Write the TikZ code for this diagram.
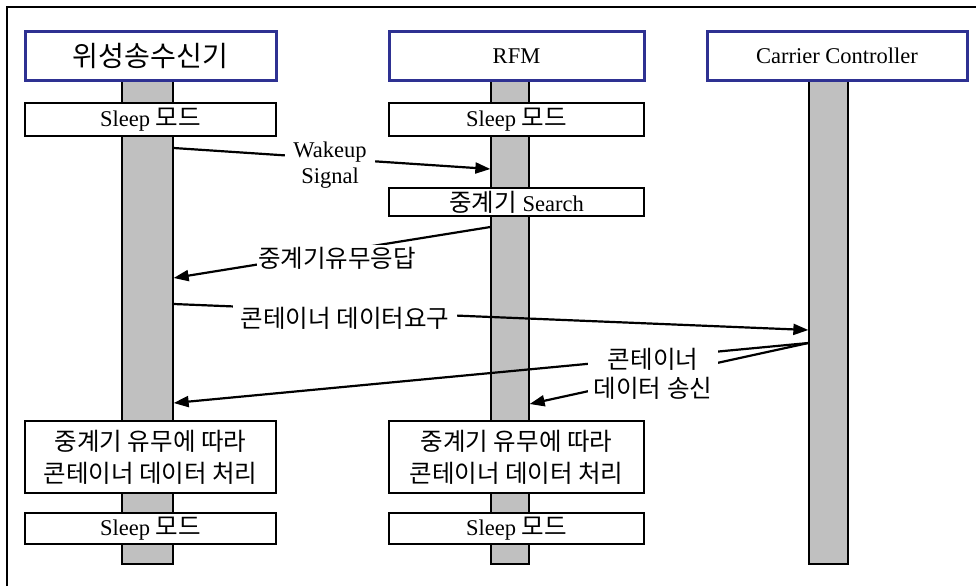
\documentclass[tikz,border=0pt]{standalone}
\usepackage{fontspec}
\setmainfont{Liberation Serif}
\newfontfamily\krfont{Noto Sans CJK KR}[Scale=1.09]
\newcommand{\ko}[1]{{\krfont #1}}
\usetikzlibrary{arrows.meta}
\definecolor{hdrblue}{RGB}{46,49,146}
\definecolor{bargray}{RGB}{192,192,192}

\begin{document}
\begin{tikzpicture}[x=1pt,y=-1pt,
  font=\fontsize{22.5}{26}\selectfont,
  hdr/.style={draw=hdrblue, line width=3pt, fill=white, inner sep=0pt},
  actbox/.style={draw=black, line width=1.3pt, fill=white, inner sep=0pt, align=center},
  lifebar/.style={draw=black, line width=1.3pt, fill=bargray, inner sep=0pt},
  msg/.style={line width=2.2pt, -{Triangle[length=15pt,width=11pt]}},
  lbl/.style={fill=white, inner sep=1.5pt, align=center}
]
\useasboundingbox (0,0) rectangle (976,586);

% frame
\draw[line width=1.3pt] (7,586) -- (7,7) -- (976,7);

% lifelines
\node[lifebar, minimum width=51, minimum height=484] (b1) at (147.5,322) {};
\node[lifebar, minimum width=38, minimum height=484] (b2) at (510,322) {};
\node[lifebar, minimum width=39, minimum height=484] (b3) at (828.5,322) {};

% participant headers
\node[hdr, minimum width=251, minimum height=48] (h1) at (150.5,56) {{\krfont\fontsize{25.8}{30}\selectfont 위성송수신기}};
\node[hdr, minimum width=255, minimum height=48] (h2) at (516.5,56) {RFM};
\node[hdr, minimum width=260, minimum height=48] (h3) at (837,56) {Carrier Controller};

% activity boxes, satellite transceiver
\node[actbox, minimum width=251, minimum height=33] (s1) at (150.5,119.5) {Sleep \ko{모드}};
\node[actbox, minimum width=251, minimum height=72,
      font=\fontsize{22.5}{32}\selectfont] (p1) at (150.5,457)
      {\ko{중계기 유무에 따라}\\\ko{콘테이너 데이터 처리}};
\node[actbox, minimum width=251, minimum height=31] (e1) at (150.5,528.5) {Sleep \ko{모드}};

% activity boxes, RFM
\node[actbox, minimum width=255, minimum height=33] (s2) at (516.5,119.5) {Sleep \ko{모드}};
\node[actbox, minimum width=255, minimum height=28] (sr) at (516.5,202) {\ko{중계기} Search};
\node[actbox, minimum width=255, minimum height=72,
      font=\fontsize{22.5}{32}\selectfont] (p2) at (516.5,457)
      {\ko{중계기 유무에 따라}\\\ko{콘테이너 데이터 처리}};
\node[actbox, minimum width=255, minimum height=31] (e2) at (516.5,528.5) {Sleep \ko{모드}};

% message end points on the lifelines
\coordinate (wk-s) at (b1.east |- 0,148);
\coordinate (wk-e) at (b2.west |- 0,169);
\coordinate (rp-s) at (b2.west |- 0,227);
\coordinate (rp-e) at (b1.east |- 0,278);
\coordinate (rq-s) at (b1.east |- 0,304);
\coordinate (rq-e) at (b3.west |- 0,330);
\coordinate (tx-s) at (b3.west |- 0,343);
\coordinate (tx-a) at (b1.east |- 0,403);
\coordinate (tx-b) at (b2.east |- 0,404);

% messages
\draw[msg] (wk-s) -- (wk-e);
\draw[msg] (rp-s) -- (rp-e);
\draw[msg] (rq-s) -- (rq-e);
\draw[msg] (tx-s) -- (tx-a);
\draw[msg] (tx-s) -- (tx-b);

% message labels
\node[lbl, font=\fontsize{22.5}{26}\selectfont, inner xsep=8pt] (l-wk) at (330,165) {Wakeup\\Signal};
\node[lbl] (l-rp) at (337,258) {\ko{중계기유무응답}};
\node[lbl, inner xsep=8pt] (l-rq) at (345,318) {\ko{콘테이너 데이터요구}};
\node[lbl, font=\fontsize{22.5}{29}\selectfont, inner xsep=6pt] (l-tx) at (653,374) {\ko{콘테이너}\\\ko{데이터 송신}};
\end{tikzpicture}
\end{document}
